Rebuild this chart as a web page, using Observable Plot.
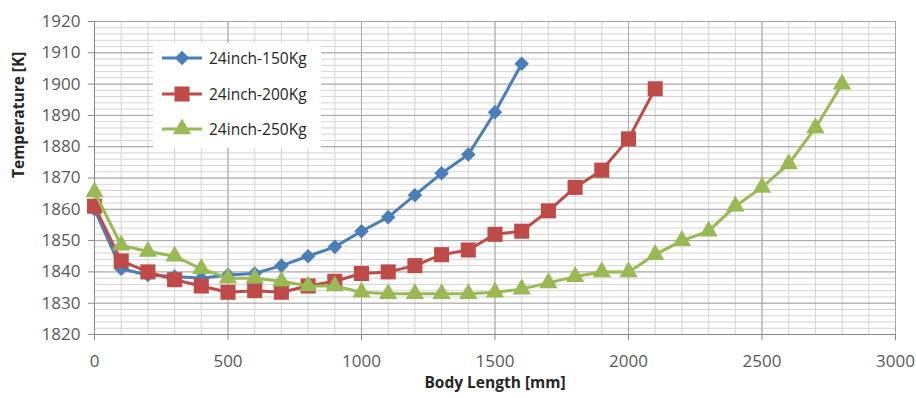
<!DOCTYPE html>
<html>
<head>
<meta charset="utf-8">
<script src="https://cdn.jsdelivr.net/npm/d3@7"></script>
<script src="https://cdn.jsdelivr.net/npm/@observablehq/plot@0.6"></script>
<style>
  body { margin: 0; background: #fff; }
  #wrap { position: relative; width: 916px; height: 398px; font-family: "Open Sans", sans-serif; }
  #legend { position: absolute; left: 153px; top: 43px; width: 168px; height: 105px; background: #fff; }
  .row { position: absolute; left: 0; height: 20px; display: flex; align-items: center; }
  .row span { font-size: 15.5px; color: #262626; margin-left: 4px; }
</style>
</head>
<body>
<div id="wrap"></div>
<script>
const xLength = [0,100,200,300,400,500,600,700,800,900,1000,1100,1200,1300,1400,1500,1600,1700,1800,1900,2000,2100,2200,2300,2400,2500,2600,2700,2800];
const temp150 = [1860,1841,1839,1838.5,1838,1839,1839.5,1842,1845,1848,1853,1857.5,1864.5,1871.5,1877.5,1891,1906.5];
const temp200 = [1861,1843.5,1840,1837.5,1835.5,1833.5,1834,1833.5,1835.5,1837,1839.5,1840,1842,1845.5,1847,1852,1853,1859.5,1867,1872.5,1882.5,1898.5];
const temp250 = [1865.5,1848.5,1846.5,1845,1841,1838,1838,1837,1835.5,1835.5,1833.5,1833,1833,1833,1833,1833.5,1834.5,1836.5,1838.5,1840,1840,1845.5,1850,1853,1861,1867,1874.5,1886,1900];
const seriesNames = ["24inch-150Kg","24inch-200Kg","24inch-250Kg"];
const seriesColors = ["#4A7EBB","#BE4B48","#98B954"];
const seriesSymbols = ["diamond","square","triangle"];
const xTicks = [0,500,1000,1500,2000,2500,3000];
const yTicks = [1820,1830,1840,1850,1860,1870,1880,1890,1900,1910,1920];
const xMinor = d3.range(0, 3001, 100);
const yMinor = d3.range(1820, 1921, 2);

const allSeries = [temp150, temp200, temp250];
const data = allSeries.flatMap((vals, i) => vals.map((v, j) => ({x: xLength[j], y: v, s: seriesNames[i]})));

// Excel-style diamond: a square rotated by 45 degrees
const symbolDiamondSquare = {
  draw(context, size) {
    const h = Math.sqrt(size / 2);
    context.moveTo(0, -h);
    context.lineTo(h, 0);
    context.lineTo(0, h);
    context.lineTo(-h, 0);
    context.closePath();
  }
};
const symbolTypes = {diamond: symbolDiamondSquare, square: d3.symbolSquare, triangle: d3.symbolTriangle};
const symbolSize = {diamond: 5.8, square: 8.5, triangle: 6.8};

const marks = [
  Plot.ruleX(xMinor, {stroke: "#d4d4d4", strokeWidth: 1}),
  Plot.ruleY(yMinor, {stroke: "#d4d4d4", strokeWidth: 1}),
  Plot.ruleY(yTicks, {stroke: "#a6a6a6", strokeWidth: 1}),
  Plot.ruleX(xTicks, {stroke: "#a6a6a6", strokeWidth: 1}),
  Plot.frame({stroke: "#a6a6a6"}),
  Plot.axisY({ticks: yTicks, tickSize: 6, tickPadding: 8, tickFormat: d => String(d), fontSize: 17, color: "#595959", stroke: "#888", label: null}),
  Plot.axisX({ticks: xTicks, tickSize: 6, tickPadding: 14, tickFormat: d => String(d), fontSize: 17, color: "#595959", stroke: "#888", label: null}),
  Plot.ruleX([0], {stroke: "#888"}),
  Plot.ruleY([1820], {stroke: "#888"}),
];
seriesNames.forEach((name, i) => {
  const d = data.filter(r => r.s === name);
  marks.push(Plot.line(d, {x: "x", y: "y", stroke: seriesColors[i], strokeWidth: 3}));
  marks.push(Plot.dot(d, {x: "x", y: "y", fill: seriesColors[i], stroke: "none", symbol: symbolTypes[seriesSymbols[i]], r: symbolSize[seriesSymbols[i]]}));
});

const chart = Plot.plot({
  width: 916,
  height: 398,
  marginLeft: 94,
  marginRight: 21,
  marginTop: 21,
  marginBottom: 64,
  style: {fontFamily: "'Open Sans', sans-serif", background: "#fff"},
  x: {domain: [0, 3000]},
  y: {domain: [1820, 1920]},
  marks: [
    ...marks,
    Plot.text(["Body Length [mm]"], {frameAnchor: "bottom", dy: 53, fontSize: 15.5, fontWeight: "bold", fill: "#262626"}),
    Plot.text(["Temperature [K]"], {frameAnchor: "left", dx: -75, rotate: -90, fontSize: 15.5, fontWeight: "bold", fill: "#262626"})
  ]
});

const wrap = document.getElementById("wrap");
wrap.appendChild(chart);

// legend overlay
const legend = document.createElement("div");
legend.id = "legend";
const rowTops = [5, 41, 76];
seriesNames.forEach((name, i) => {
  const row = document.createElement("div");
  row.className = "row";
  row.style.top = rowTops[i] + "px";
  const svg = d3.create("svg").attr("width", 52).attr("height", 20);
  svg.append("line").attr("x1", 9).attr("x2", 49).attr("y1", 10).attr("y2", 10).attr("stroke", seriesColors[i]).attr("stroke-width", 3);
  const r = symbolSize[seriesSymbols[i]];
  svg.append("path").attr("d", d3.symbol(symbolTypes[seriesSymbols[i]], Math.PI * r * r)()).attr("transform", "translate(29,10)").attr("fill", seriesColors[i]);
  row.appendChild(svg.node());
  const label = document.createElement("span");
  label.textContent = name;
  row.appendChild(label);
  legend.appendChild(row);
});
wrap.appendChild(legend);
</script>
</body>
</html>
